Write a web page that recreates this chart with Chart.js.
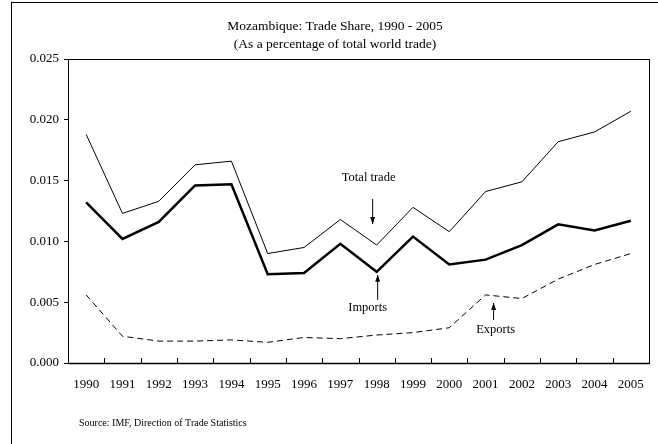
<!DOCTYPE html>
<html>
<head>
<meta charset="utf-8">
<script src="https://cdn.jsdelivr.net/npm/chart.js@4"></script>
<style>
  html, body { margin: 0; padding: 0; background: #fff; }
  #wrap { width: 658px; height: 444px; position: relative; }
</style>
</head>
<body>
<div id="wrap"><canvas id="chart" width="658" height="444"></canvas></div>
<script>
// Data
const years = ['1990', '1991', '1992', '1993', '1994', '1995', '1996', '1997',
               '1998', '1999', '2000', '2001', '2002', '2003', '2004', '2005'];
const totalTrade = [0.0188, 0.0123, 0.0133, 0.0163, 0.0166, 0.0090, 0.0095, 0.0118,
                    0.0097, 0.0128, 0.0108, 0.0141, 0.0149, 0.0182, 0.0190, 0.0207];
const imports = [0.0132, 0.0102, 0.0116, 0.0146, 0.0147, 0.0073, 0.0074, 0.0098,
                 0.0075, 0.0104, 0.0081, 0.0085, 0.0097, 0.0114, 0.0109, 0.0117];
const exportsShare = [0.0056, 0.0022, 0.0018, 0.0018, 0.0019, 0.0017, 0.0021, 0.0020,
                      0.0023, 0.0025, 0.0029, 0.0056, 0.0053, 0.0069, 0.0081, 0.0090];
const yTicks = [0, 0.005, 0.010, 0.015, 0.020, 0.025];

const FONT = '"Liberation Serif", "Times New Roman", serif';

// Draw an arrow (vertical)
function arrow(ctx, x, y1, y2) {
    ctx.beginPath();
    ctx.moveTo(x, y1);
    ctx.lineTo(x, y2);
    ctx.stroke();
    const dir = y2 > y1 ? 1 : -1;
    ctx.beginPath();
    ctx.moveTo(x, y2);
    ctx.lineTo(x - 2.5, y2 - dir * 7);
    ctx.lineTo(x + 2.5, y2 - dir * 7);
    ctx.closePath();
    ctx.fill();
}

const decorPlugin = {
    id: 'decor',
    afterDraw(chart) {
        const { ctx, chartArea: a, scales } = chart;
        const x = scales.x, y = scales.y;
        ctx.save();
        ctx.strokeStyle = '#000';
        ctx.fillStyle = '#000';

        // outer frame
        ctx.lineWidth = 1;
        ctx.strokeRect(11.5, 2.5, 700, 600);

        // plot box
        ctx.strokeRect(Math.round(a.left) + 0.5, Math.round(a.top) + 0.5,
                       Math.round(a.right - a.left), Math.round(a.bottom - a.top));
        ctx.lineWidth = 1.5;
        ctx.beginPath();
        ctx.moveTo(a.left, Math.round(a.bottom) + 0.5);
        ctx.lineTo(a.right, Math.round(a.bottom) + 0.5);
        ctx.stroke();

        // x ticks pointing inward
        ctx.lineWidth = 1;
        const step = (a.right - a.left) / years.length;
        for (let i = 1; i < years.length; i++) {
            const px = Math.round(a.left + i * step) + 0.5;
            ctx.beginPath();
            ctx.moveTo(px, a.bottom);
            ctx.lineTo(px, a.bottom - 5);
            ctx.stroke();
        }

        // titles
        ctx.font = '13.5px ' + FONT;
        ctx.textAlign = 'center';
        ctx.textBaseline = 'middle';
        ctx.fillText('Mozambique: Trade Share, 1990 - 2005', 335, 26);
        ctx.fillText('(As a percentage of total world trade)', 335, 44);

        // annotations
        const i98 = years.indexOf('1998');
        const x98 = x.getPixelForValue(i98);
        const yT = y.getPixelForValue(totalTrade[i98]);
        const yI = y.getPixelForValue(imports[i98]);
        ctx.font = '12.5px ' + FONT;
        ctx.fillText('Total trade', x98 - 8, 178);
        arrow(ctx, x98 - 4, yT - 46, yT - 21);
        ctx.fillText('Imports', x98 - 9, 308);
        arrow(ctx, x98 + 1, yI + 28, yI + 3);
        const i01 = years.indexOf('2001');
        const x01 = x.getPixelForValue(i01);
        ctx.fillText('Exports', x01 + 10, 330);
        arrow(ctx, x01 + 8, 320, 303);

        // source
        ctx.font = '10px ' + FONT;
        ctx.textAlign = 'left';
        ctx.fillText('Source: IMF, Direction of Trade Statistics', 79, 423);
        ctx.restore();
    }
};

new Chart(document.getElementById('chart'), {
    type: 'line',
    data: {
        labels: years,
        datasets: [
            { label: 'Total trade', data: totalTrade, borderColor: '#000', borderWidth: 1 },
            { label: 'Imports', data: imports, borderColor: '#000', borderWidth: 2.5 },
            { label: 'Exports', data: exportsShare, borderColor: '#000', borderWidth: 1, borderDash: [6, 4] }
        ]
    },
    options: {
        responsive: false,
        animation: false,
        layout: { padding: { left: 0, right: 9, top: 59, bottom: 51 } },
        elements: { point: { radius: 0 }, line: { tension: 0 } },
        plugins: { legend: { display: false }, tooltip: { enabled: false } },
        scales: {
            x: {
                offset: true,
                grid: { display: false },
                border: { display: false },
                ticks: { color: '#000', font: { family: FONT, size: 13 }, maxRotation: 0, autoSkip: false, padding: 6 },
                afterFit: (s) => { s.height = 30; }
            },
            y: {
                min: 0,
                max: 0.025,
                afterBuildTicks: (s) => { s.ticks = yTicks.map(v => ({ value: v })); },
                grid: { drawOnChartArea: false, drawTicks: true, tickLength: 4, color: '#000' },
                border: { display: false },
                ticks: { color: '#000', font: { family: FONT, size: 13 }, padding: 5,
                         callback: (v) => v.toFixed(3) },
                afterFit: (s) => { s.width = 68; }
            }
        }
    },
    plugins: [decorPlugin]
});
</script>
</body>
</html>
